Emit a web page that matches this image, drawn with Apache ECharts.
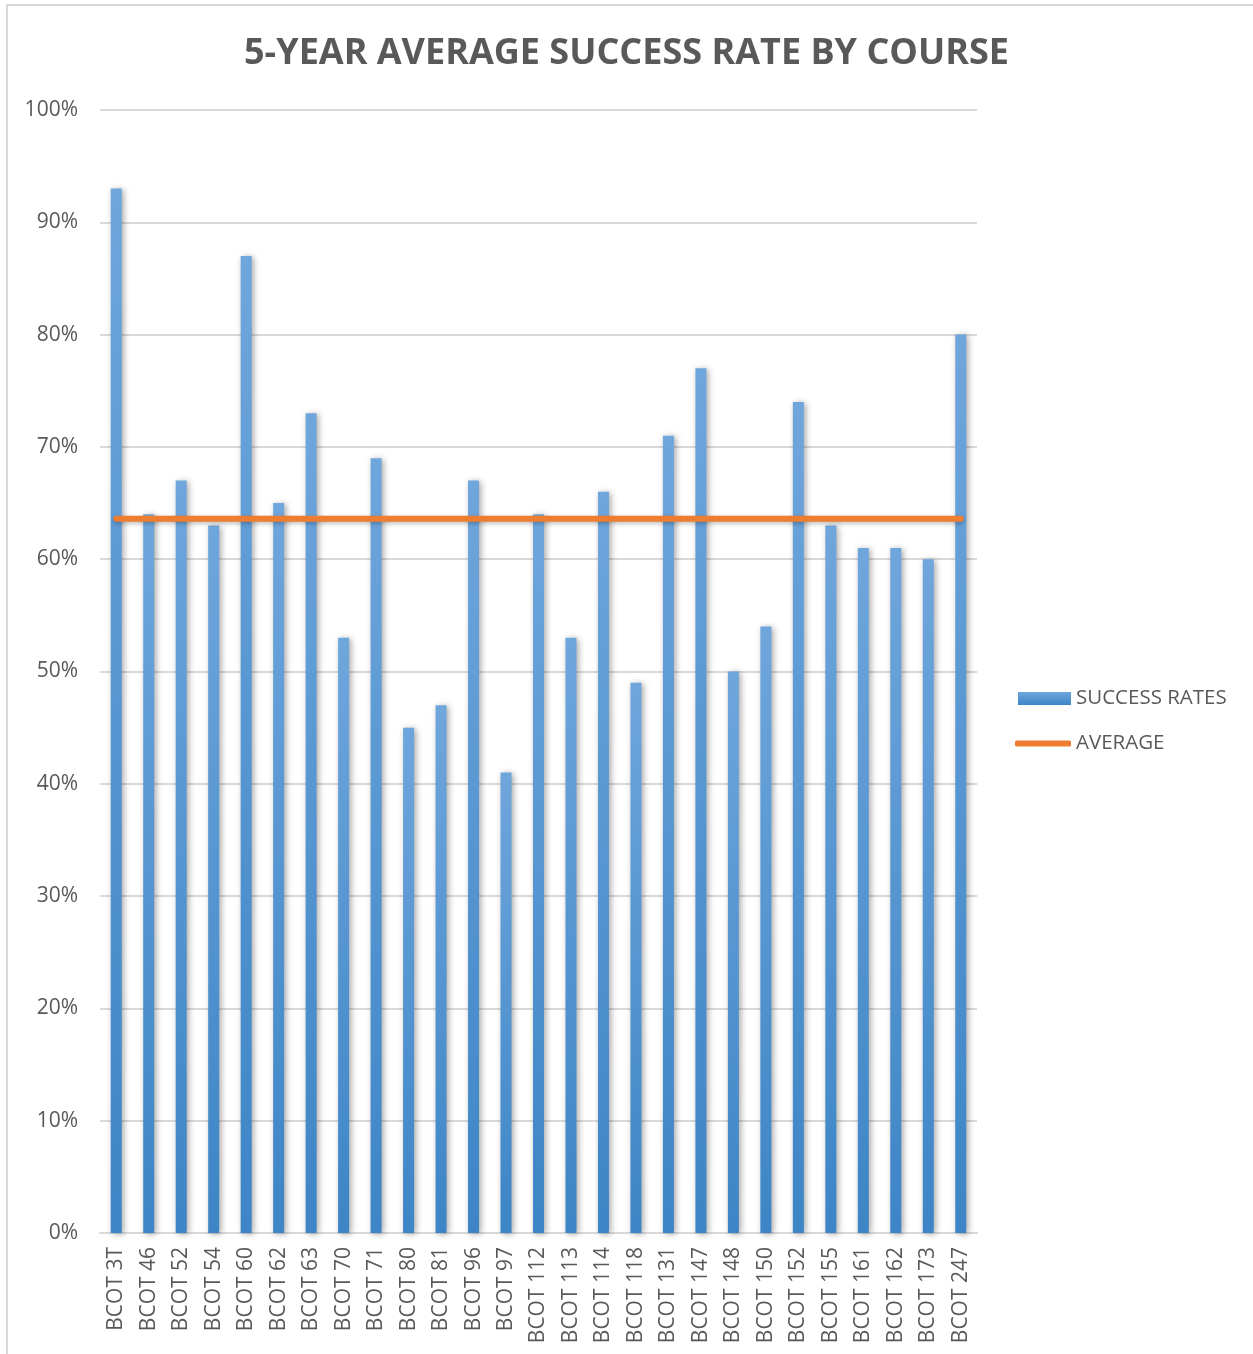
<!DOCTYPE html>
<html>
<head>
<meta charset="utf-8">
<script src="https://cdn.jsdelivr.net/npm/echarts@6/dist/echarts.min.js"></script>
<style>
html,body{margin:0;padding:0;background:#fff;}
#chart{width:1253px;height:1354px;}
</style>
</head>
<body>
<div id="chart"></div>
<script>
const categories = ['BCOT 3T','BCOT 46','BCOT 52','BCOT 54','BCOT 60','BCOT 62','BCOT 63','BCOT 70','BCOT 71','BCOT 80','BCOT 81','BCOT 96','BCOT 97','BCOT 112','BCOT 113','BCOT 114','BCOT 118','BCOT 131','BCOT 147','BCOT 148','BCOT 150','BCOT 152','BCOT 155','BCOT 161','BCOT 162','BCOT 173','BCOT 247'];
const successRates = [0.93,0.64,0.67,0.63,0.87,0.65,0.73,0.53,0.69,0.45,0.47,0.67,0.41,0.64,0.53,0.66,0.49,0.71,0.77,0.50,0.54,0.74,0.63,0.61,0.61,0.60,0.80];
const averageValue = 0.636;
const averageSeries = categories.map(() => averageValue);
const yTicks = [0,0.1,0.2,0.3,0.4,0.5,0.6,0.7,0.8,0.9,1.0];

const chart = echarts.init(document.getElementById('chart'), null, {renderer:'canvas'});
const font = '"Open Sans", "Liberation Sans", sans-serif';
const txt = '#595959';
chart.setOption({
  backgroundColor:'#ffffff',
  animation:false,
  title:{
    text:'5-YEAR AVERAGE SUCCESS RATE BY COURSE',
    left:'center', top:31,
    textStyle:{fontFamily:font, fontSize:36, fontWeight:'bold', color:txt}
  },
  graphic:[
    {type:'line', shape:{x1:6,y1:5,x2:1253,y2:5}, style:{stroke:'#d9d9d9', lineWidth:2}, silent:true},
    {type:'line', shape:{x1:7,y1:4,x2:7,y2:1354}, style:{stroke:'#d9d9d9', lineWidth:2}, silent:true}
  ],
  legend:[
    {
      data:[{name:'SUCCESS RATES', icon:'rect'}],
      left:1013, top:683, orient:'vertical',
      itemWidth:53, itemHeight:13,
      textStyle:{fontFamily:font, fontSize:20.5, color:txt}
    },
    {
      data:[{name:'AVERAGE', icon:'roundRect', itemStyle:{color:'#ed7d31'}}],
      left:1010, top:728, orient:'vertical',
      itemWidth:56, itemHeight:6,
      textStyle:{fontFamily:font, fontSize:20.5, color:txt}
    }
  ],
  grid:{left:100, right:276, top:110, bottom:121, containLabel:false},
  xAxis:{
    type:'category', data:categories, boundaryGap:true,
    axisLine:{lineStyle:{color:'#d9d9d9', width:2}},
    axisTick:{show:false},
    axisLabel:{rotate:90, fontFamily:font, fontSize:21, color:txt, margin:14, interval:0}
  },
  yAxis:{
    type:'value', min:0, max:1, interval:0.1,
    axisLine:{show:false}, axisTick:{show:false},
    splitLine:{lineStyle:{color:'#d9d9d9', width:2}},
    axisLabel:{fontFamily:font, fontSize:21, color:txt, margin:22,
      formatter:v => Math.round(v*100)+'%'}
  },
  series:[
    {
      name:'SUCCESS RATES', type:'bar', data:successRates, barWidth:11,
      itemStyle:{
        color:new echarts.graphic.LinearGradient(0,0,0,1,[{offset:0,color:'#6fa6dc'},{offset:1,color:'#3d85c6'}]),
        shadowBlur:6, shadowColor:'rgba(0,0,0,0.35)', shadowOffsetX:2, shadowOffsetY:1
      }
    },
    {
      name:'AVERAGE', type:'line', data:averageSeries, symbol:'none',
      lineStyle:{color:'#ed7d31', width:6, cap:'round', shadowBlur:4, shadowColor:'rgba(0,0,0,0.25)', shadowOffsetY:2},
      itemStyle:{color:'#ed7d31'}, z:5
    }
  ]
});
</script>
</body>
</html>
